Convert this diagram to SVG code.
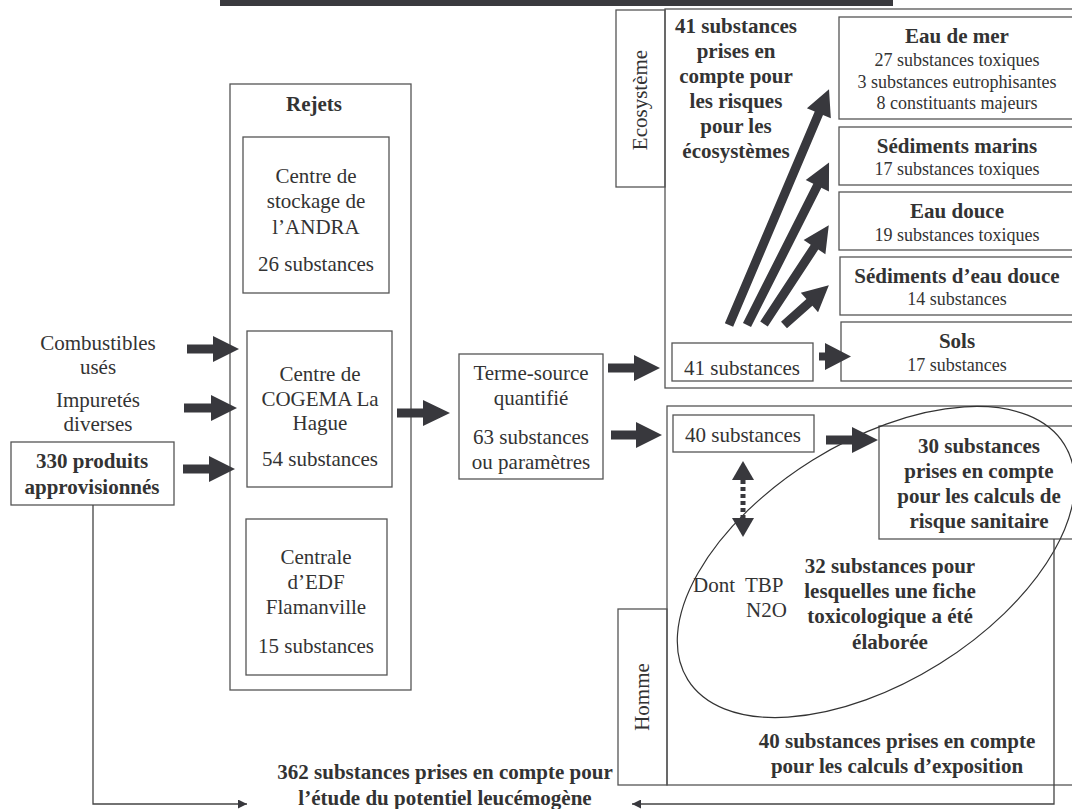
<svg xmlns="http://www.w3.org/2000/svg" width="1072" height="809" viewBox="0 0 1072 809">
<style>
.bx{fill:none;stroke:#555;stroke-width:1.3}
.t{font-family:"Liberation Serif","Times New Roman",serif;font-size:21px;fill:#333;text-anchor:middle}
.s{font-size:18px}
.b{font-weight:bold}
.ar{fill:#38383d;stroke:none}
.ln{fill:none;stroke:#444;stroke-width:1.3}
.dot{fill:none;stroke:#38383d;stroke-width:5;stroke-dasharray:4 3}
</style>
<defs>
<marker id="sm" viewBox="0 0 10 10" refX="10" refY="5" markerWidth="9" markerHeight="9" markerUnits="userSpaceOnUse" orient="auto">
<path d="M0,0 L10,5 L0,10 Z" fill="#38383d"/>
</marker>
</defs>
<rect x="0" y="0" width="1072" height="809" fill="#fff"/>
<rect x="220" y="0" width="673" height="6" fill="#3a3a3e"/>

<g id="panel-ecosysteme">
<rect class="bx" x="665" y="9" width="420" height="379"/>
<rect class="bx" x="616" y="10" width="49" height="177"/>
<text class="t" x="647" y="100" transform="rotate(-90 647 100)">Ecosystème</text>
<text class="t b" x="736"><tspan x="736" y="33">41 substances</tspan><tspan x="736" y="58">prises en</tspan><tspan x="736" y="83">compte pour</tspan><tspan x="736" y="108">les risques</tspan><tspan x="736" y="133">pour les</tspan><tspan x="736" y="158">écosystèmes</tspan></text>
</g>
<g id="panel-homme">
<rect class="bx" x="667" y="406" width="420" height="379"/>
<rect class="bx" x="618" y="609" width="49" height="176"/>
<text class="t" x="649" y="697" transform="rotate(-90 649 697)">Homme</text>
<text class="t b"><tspan x="897" y="748">40 substances prises en compte</tspan><tspan x="897" y="773">pour les calculs d’exposition</tspan></text>
</g>
<g id="rejets">
<rect class="bx" x="230" y="84" width="181" height="606"/>
<text class="t b" x="314" y="111">Rejets</text>
</g>
<g id="andra">
<rect class="bx" x="243" y="137" width="146" height="156"/>
<text class="t"><tspan x="316" y="183">Centre de</tspan><tspan x="316" y="208">stockage de</tspan><tspan x="316" y="234">l’ANDRA</tspan><tspan x="316" y="271">26 substances</tspan></text>
</g>
<g id="cogema">
<rect class="bx" x="247" y="331" width="145" height="156"/>
<text class="t"><tspan x="320" y="381">Centre de</tspan><tspan x="320" y="406">COGEMA La</tspan><tspan x="320" y="430">Hague</tspan><tspan x="320" y="466">54 substances</tspan></text>
</g>
<g id="edf">
<rect class="bx" x="246" y="519" width="141" height="156"/>
<text class="t"><tspan x="316" y="564">Centrale</tspan><tspan x="316" y="589">d’EDF</tspan><tspan x="316" y="614">Flamanville</tspan><tspan x="316" y="653">15 substances</tspan></text>
</g>
<g id="combustibles">
<text class="t"><tspan x="98" y="350">Combustibles</tspan><tspan x="98" y="374">usés</tspan></text>
</g>
<g id="impuretes">
<text class="t"><tspan x="98" y="407">Impuretés</tspan><tspan x="98" y="431">diverses</tspan></text>
</g>
<g id="produits">
<rect class="bx" x="11" y="442" width="163" height="63"/>
<text class="t b"><tspan x="92" y="468">330 produits</tspan><tspan x="92" y="494">approvisionnés</tspan></text>
</g>
<g id="terme-source">
<rect class="bx" x="459" y="354" width="144" height="125"/>
<text class="t"><tspan x="531" y="380">Terme-source</tspan><tspan x="531" y="405">quantifié</tspan><tspan x="531" y="444">63 substances</tspan><tspan x="531" y="469">ou paramètres</tspan></text>
</g>
<g id="eco-41">
<rect class="bx" x="672" y="343" width="141" height="38"/>
<text class="t" x="742" y="375">41 substances</text>
</g>
<g id="eau-de-mer">
<rect class="bx" x="839" y="17" width="240" height="102"/>
<text class="t b" x="957" y="43">Eau de mer</text>
<text class="t s"><tspan x="957" y="66">27 substances toxiques</tspan><tspan x="957" y="88">3 substances eutrophisantes</tspan><tspan x="957" y="109">8 constituants majeurs</tspan></text>
</g>
<g id="sediments-marins">
<rect class="bx" x="839" y="127" width="240" height="58"/>
<text class="t b" x="957" y="153">Sédiments marins</text>
<text class="t s" x="957" y="175">17 substances toxiques</text>
</g>
<g id="eau-douce">
<rect class="bx" x="839" y="192" width="240" height="58"/>
<text class="t b" x="957" y="218">Eau douce</text>
<text class="t s" x="957" y="241">19 substances toxiques</text>
</g>
<g id="sediments-eau-douce">
<rect class="bx" x="840" y="257" width="240" height="58"/>
<text class="t b" x="957" y="283">Sédiments d’eau douce</text>
<text class="t s" x="957" y="305">14 substances</text>
</g>
<g id="sols">
<rect class="bx" x="841" y="322" width="240" height="59"/>
<text class="t b" x="957" y="348">Sols</text>
<text class="t s" x="957" y="371">17 substances</text>
</g>
<g id="homme-40">
<rect class="bx" x="673" y="415" width="141" height="37"/>
<text class="t" x="743" y="442">40 substances</text>
</g>
<g id="sanitaire-30">
<rect class="bx" x="879" y="426" width="200" height="113"/>
<text class="t b"><tspan x="979" y="453">30 substances</tspan><tspan x="979" y="478">prises en compte</tspan><tspan x="979" y="503">pour les calculs de</tspan><tspan x="979" y="528">risque sanitaire</tspan></text>
</g>
<g id="fiche-32">
<ellipse cx="876" cy="562" rx="222" ry="120" transform="rotate(-32 876 562)" fill="none" stroke="#333" stroke-width="1.2"/>
<text class="t"><tspan x="693" y="592" text-anchor="start">Dont</tspan><tspan x="745" y="592" text-anchor="start">TBP</tspan><tspan x="746" y="617" text-anchor="start">N2O</tspan></text>
<text class="t b"><tspan x="890" y="573">32 substances pour</tspan><tspan x="890" y="598">lesquelles une fiche</tspan><tspan x="890" y="623">toxicologique a été</tspan><tspan x="890" y="649">élaborée</tspan></text>
</g>
<g id="leucemogene">
<text class="t b"><tspan x="445" y="779">362 substances prises en compte pour</tspan><tspan x="445" y="805">l’étude du potentiel leucémogène</tspan></text>
</g>

<g id="connectors">
<polygon class="ar" points="187,344.5 213,344.5 213,336 239,349 213,362 213,353.5 187,353.5"/>
<polygon class="ar" points="184,403.5 211,403.5 211,395 237,408 211,421 211,412.5 184,412.5"/>
<polygon class="ar" points="183,464.5 209,464.5 209,456 235,469 209,482 209,473.5 183,473.5"/>
<polygon class="ar" points="397,408.5 423,408.5 423,400 450,413 423,426 423,417.5 397,417.5"/>
<polygon class="ar" points="608,363.5 634,363.5 634,355 660,368 634,381 634,372.5 608,372.5"/>
<polygon class="ar" points="611,430.5 636,430.5 636,422 662,435 636,448 636,439.5 611,439.5"/>
<polygon class="ar" points="819,352.5 825,352.5 825,343 851,356.5 825,370 825,360.5 819,360.5"/>
<polygon class="ar" points="826,435.5 852,435.5 852,427 878,440 852,453 852,444.5 826,444.5"/>
<polygon class="ar" transform="translate(729 325) rotate(-67)" points="0,-4.5 230,-4.5 230,-13 256,0 230,13 230,4.5 0,4.5"/>
<polygon class="ar" transform="translate(747 325) rotate(-63.2)" points="0,-4.5 156,-4.5 156,-13 182,0 156,13 156,4.5 0,4.5"/>
<polygon class="ar" transform="translate(764 324) rotate(-56.7)" points="0,-4.5 92,-4.5 92,-13 118,0 92,13 92,4.5 0,4.5"/>
<polygon class="ar" transform="translate(784 325) rotate(-41.6)" points="0,-4.5 34,-4.5 34,-13 60,0 34,13 34,4.5 0,4.5"/>
<polygon class="ar" points="743,461 732,480 754,480"/>
<line class="dot" x1="743" y1="480" x2="743" y2="518"/>
<polygon class="ar" points="743,537 732,518 754,518"/>
<polyline class="ln" points="93,505 93,804 247,804" marker-end="url(#sm)"/>
<polyline class="ln" points="1054,539 1054,804 632,804" marker-end="url(#sm)"/>
</g>
</svg>
